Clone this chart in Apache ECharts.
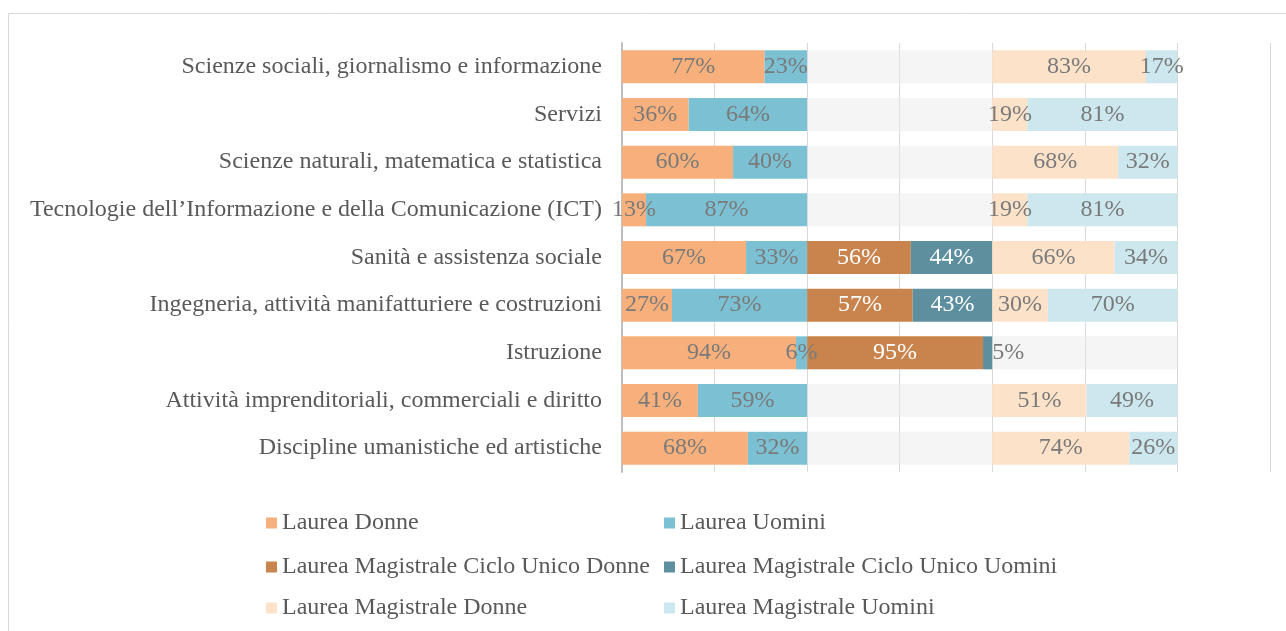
<!DOCTYPE html>
<html>
<head>
<meta charset="utf-8">
<script src="https://cdn.jsdelivr.net/npm/echarts@6/dist/echarts.min.js"></script>
<style>
  html, body { margin: 0; padding: 0; background: #fff; }
  #chart { width: 1286px; height: 631px; }
</style>
</head>
<body>
<div id="chart"></div>
<script>
const categories = [
  "Scienze sociali, giornalismo e informazione",
  "Servizi",
  "Scienze naturali, matematica e statistica",
  "Tecnologie dell\u2019Informazione e della Comunicazione (ICT)",
  "Sanità e assistenza sociale",
  "Ingegneria, attività manifatturiere e costruzioni",
  "Istruzione",
  "Attività imprenditoriali, commerciali e diritto",
  "Discipline umanistiche ed artistiche",
];

const laureaDonne = [77, 36, 60, 13, 67, 27, 94, 41, 68];
const laureaUomini = [23, 64, 40, 87, 33, 73, 6, 59, 32];
const cicloUnicoDonne = [null, null, null, null, 56, 57, 95, null, null];
const cicloUnicoUomini = [null, null, null, null, 44, 43, 5, null, null];
const magistraleDonne = [83, 19, 68, 19, 66, 30, null, 51, 74];
const magistraleUomini = [17, 81, 32, 81, 34, 70, null, 49, 26];

const colors = {
  laureaDonne: "#f7b07b",
  laureaUomini: "#7bc1d3",
  cicloUnicoDonne: "#c8844c",
  cicloUnicoUomini: "#5e8f9f",
  magistraleDonne: "#fde2ca",
  magistraleUomini: "#cde7ee",
  empty: "rgba(232, 232, 232, 0.45)",
};

const FONT = "Liberation Serif";
const TEXT_GREY = "#595959";
const LABEL_GREY = "#7a7a7a";

// a group with no data is drawn as a pale grey block filling its 100%
function emptyFill(values) {
  return values.map((v) => (v == null ? 100 : null));
}

function barSeries(name, data, color, labelColor) {
  return {
    name: name,
    type: "bar",
    stack: "total",
    barWidth: 33,
    data: data,
    itemStyle: { color: color },
    label: {
      show: true,
      position: "inside",
      formatter: (p) => (p.value == null ? "" : p.value + "%"),
      fontFamily: FONT,
      fontSize: 24,
      color: labelColor,
    },
    emphasis: { disabled: true },
  };
}

function fillerSeries(data) {
  return {
    type: "bar",
    stack: "total",
    barWidth: 33,
    data: data,
    itemStyle: { color: colors.empty },
    label: { show: false },
    emphasis: { disabled: true },
    silent: true,
  };
}

// the small 5% label sits just right of its sliver
const cicloUnicoUominiData = cicloUnicoUomini.map((v) =>
  v != null && v < 10
    ? { value: v, label: { position: "right", distance: 0, color: LABEL_GREY } }
    : v
);

const legendItems = [
  ["Laurea Donne", 266, 511],
  ["Laurea Uomini", 664, 511],
  ["Laurea Magistrale Ciclo Unico Donne", 266, 555],
  ["Laurea Magistrale Ciclo Unico Uomini", 664, 555],
  ["Laurea Magistrale Donne", 266, 596],
  ["Laurea Magistrale Uomini", 664, 596],
];

const chart = echarts.init(document.getElementById("chart"));

chart.setOption({
  animation: false,
  backgroundColor: "#fff",
  graphic: [
    {
      type: "rect",
      shape: { x: 8.5, y: 13.5, width: 1290, height: 640 },
      style: { fill: null, stroke: "#d9d9d9", lineWidth: 1 },
      silent: true,
    },
  ],
  legend: legendItems.map(([name, left, top]) => ({
    data: [name],
    left: left,
    top: top,
    padding: 0,
    icon: "rect",
    itemWidth: 11,
    itemHeight: 11,
    selectedMode: false,
    textStyle: { fontFamily: FONT, fontSize: 24, color: TEXT_GREY },
  })),
  grid: { left: 622, right: 16, top: 43, bottom: 159 },
  xAxis: {
    type: "value",
    min: 0,
    max: 350,
    interval: 50,
    axisLabel: { show: false },
    axisLine: { show: false },
    axisTick: { show: false },
    splitLine: { lineStyle: { color: "#d9d9d9", width: 1 } },
  },
  yAxis: {
    type: "category",
    data: categories,
    inverse: true,
    axisLine: { lineStyle: { color: "#bfbfbf", width: 2 } },
    axisTick: { show: false },
    axisLabel: {
      margin: 20,
      fontFamily: FONT,
      fontSize: 24,
      color: TEXT_GREY,
    },
  },
  series: [
    barSeries("Laurea Donne", laureaDonne, colors.laureaDonne, LABEL_GREY),
    barSeries("Laurea Uomini", laureaUomini, colors.laureaUomini, LABEL_GREY),
    fillerSeries(emptyFill(cicloUnicoDonne)),
    barSeries("Laurea Magistrale Ciclo Unico Donne", cicloUnicoDonne, colors.cicloUnicoDonne, "#ffffff"),
    barSeries("Laurea Magistrale Ciclo Unico Uomini", cicloUnicoUominiData, colors.cicloUnicoUomini, "#ffffff"),
    fillerSeries(emptyFill(magistraleDonne)),
    barSeries("Laurea Magistrale Donne", magistraleDonne, colors.magistraleDonne, LABEL_GREY),
    barSeries("Laurea Magistrale Uomini", magistraleUomini, colors.magistraleUomini, LABEL_GREY),
  ],
});
</script>
</body>
</html>
